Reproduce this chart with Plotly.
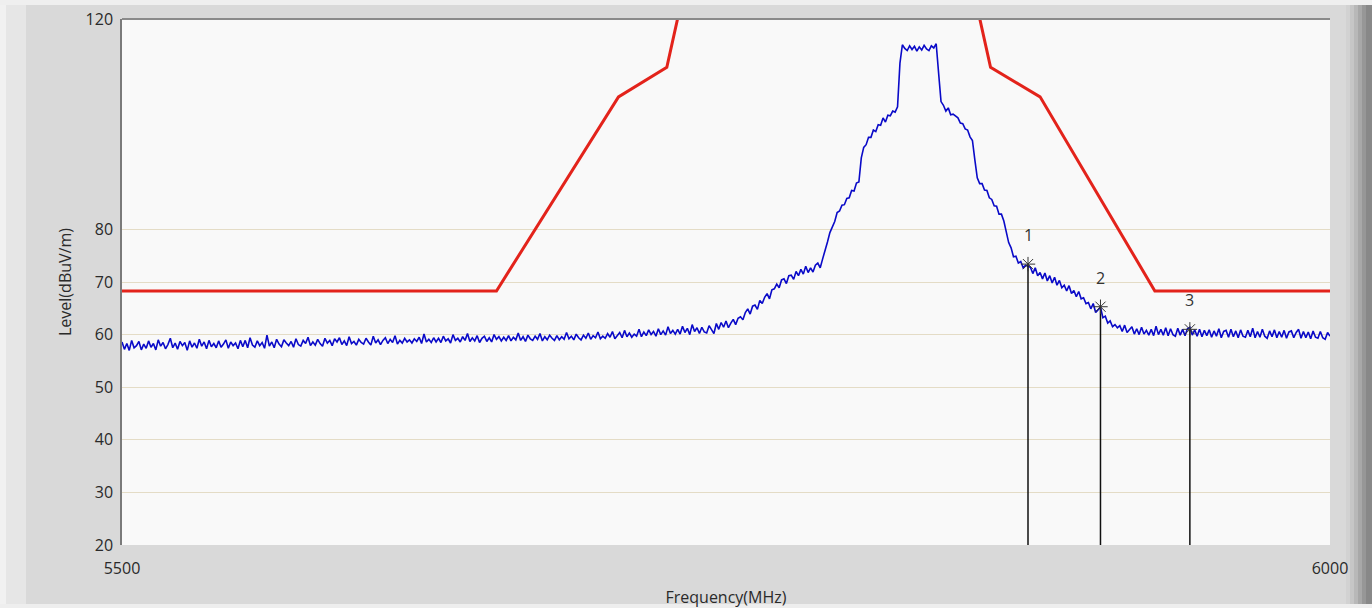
import plotly.graph_objects as go

# ---- data -------------------------------------------------------------
f_start, f_stop, f_step = 5500, 6000, 1  # MHz

# measured level, one value per MHz from 5500 to 6000 (dBuV/m)
level = [
    58.6, 57.2, 58.3, 57.0, 58.9, 57.5, 57.9, 58.7, 57.1, 58.2,
    57.4, 58.8, 57.6, 58.3, 57.1, 59.0, 57.8, 58.5, 57.3, 58.1,
    59.3, 57.5, 58.4, 57.2, 58.7, 57.9, 58.5, 57.0, 58.8, 57.6,
    58.4, 57.4, 59.1, 57.8, 58.6, 57.3, 58.9, 57.7, 58.3, 57.5,
    58.8, 57.6, 58.2, 59.0, 57.4, 58.6, 57.9, 58.4, 57.3, 58.9,
    57.7, 58.9, 57.5, 59.4, 58.0, 57.6, 58.8, 57.9, 58.5, 57.4,
    59.9, 57.8, 58.6, 57.5, 59.1, 58.2, 57.7, 59.0, 58.4, 57.9,
    58.7, 57.6, 59.2, 58.1, 57.8, 58.9, 58.3, 59.5, 57.9, 58.6,
    58.0, 59.1, 58.3, 57.8, 59.3, 58.4, 58.9, 57.9, 59.2, 58.6,
    59.4, 58.1, 58.8, 57.9, 59.6, 58.3, 58.7, 58.0, 59.1, 58.5,
    58.2, 59.3, 58.6, 58.0, 59.7, 58.4, 59.0, 58.1, 58.9, 59.4,
    58.3, 59.1, 58.5, 59.8, 58.2, 58.9, 58.4, 59.3, 58.6, 59.0,
    58.4, 59.2, 58.7, 59.5, 58.3, 60.1, 58.6, 59.1, 58.5, 59.4,
    58.6, 59.3, 58.5, 59.7, 58.8, 59.2, 58.4, 60.0, 58.9, 59.3,
    58.6, 59.6, 58.9, 60.2, 58.7, 59.4, 58.8, 59.8, 58.5, 59.3,
    59.7, 58.7, 59.4, 58.6, 60.0, 59.1, 59.6, 58.8, 59.5, 58.9,
    59.8, 58.8, 59.5, 59.0, 60.3, 58.9, 59.6, 58.7, 59.9, 59.2,
    58.9, 59.7, 59.1, 60.2, 58.8, 59.6, 59.0, 59.9, 59.3, 58.9,
    59.8, 59.0, 59.6, 59.1, 60.4, 59.2, 59.7, 59.0, 60.1, 59.4,
    59.0, 59.9, 59.3, 60.3, 59.1, 59.8, 59.4, 60.5, 59.2, 59.7,
    59.3, 60.2, 59.5, 60.6, 59.2, 59.9, 60.4, 59.4, 60.8, 59.6,
    60.3, 59.5, 60.1, 59.7, 61.0, 59.6, 60.5, 59.8, 60.9, 60.0,
    60.6, 59.7, 61.1, 60.0, 60.7, 59.9, 61.5, 60.2, 60.8, 60.1,
    61.0, 60.1, 61.6, 60.4, 61.2, 60.0, 61.9, 60.6, 61.3, 60.2,
    61.4, 60.5, 60.3, 61.7, 60.8, 60.2, 62.1, 61.0, 62.3, 61.4,
    62.6, 61.3, 62.2, 62.9, 61.9, 63.1, 63.4, 62.8, 64.2, 64.9,
    63.9, 65.4, 65.6, 64.8, 66.5, 65.9, 67.1, 67.8, 66.8, 68.5,
    68.7, 69.6, 68.9, 70.4, 70.6, 69.7, 71.2, 71.3, 70.5, 72.0,
    71.2, 72.4, 71.5, 73.0, 71.8, 72.7, 71.9, 73.2, 73.6, 72.7,
    74.4, 75.8, 77.6, 79.4, 80.6, 81.5, 83.2, 83.5, 84.6, 84.7,
    85.9, 86.0, 87.4, 87.3, 88.8, 89.0, 93.6, 95.6, 96.1, 97.5,
    97.5, 98.9, 98.6, 99.9, 99.8, 101.2, 100.4, 101.7, 101.6, 102.5,
    102.3, 103.3, 111.6, 115.1, 114.4, 114.0, 114.9, 114.2, 114.8, 113.9,
    114.7, 114.1, 115.0, 114.3, 114.0, 114.9, 114.5, 115.3, 109.7, 104.3,
    103.6, 102.5, 103.1, 101.8, 101.9, 101.5, 101.2, 100.2, 100.1, 99.1,
    98.9, 97.6, 96.9, 93.2, 89.8, 88.7, 88.7, 87.5, 87.4, 86.0,
    85.7, 84.5, 84.4, 82.9, 82.9, 81.6, 79.8, 77.5, 76.5, 74.8,
    74.9, 73.6, 73.9, 72.7, 73.2, 73.0, 72.8, 71.6, 72.7, 71.2,
    71.8, 70.6, 71.7, 70.2, 71.2, 69.8, 70.9, 69.4, 70.3, 68.9,
    69.4, 68.3, 69.3, 67.8, 68.4, 67.2, 68.2, 66.8, 67.0, 65.9,
    66.1, 64.9, 65.9, 64.2, 64.8, 65.2, 63.2, 63.5, 62.2, 62.6,
    61.5, 61.9, 61.3, 61.7, 60.6, 61.8, 60.4, 61.0, 61.5, 60.1,
    61.1, 60.0, 61.4, 60.1, 60.8, 59.9, 61.0, 59.8, 61.6, 60.0,
    61.0, 59.9, 61.3, 59.8, 61.1, 60.0, 59.7, 61.2, 59.9, 61.0,
    59.8, 61.1, 61.4, 59.9, 60.9, 59.7, 61.0, 59.6, 60.8, 59.8,
    60.9, 59.5, 60.7, 59.7, 61.1, 59.4, 60.6, 60.8, 59.5, 61.0,
    59.6, 60.7, 59.4, 60.9, 59.7, 59.5, 60.8, 59.6, 61.2, 59.4,
    60.6, 59.5, 61.0, 59.7, 59.3, 60.7, 59.6, 60.9, 59.4, 60.6,
    59.5, 60.8, 59.3, 60.5, 60.7, 59.4, 60.4, 61.0, 59.3, 60.6,
    59.4, 60.5, 59.2, 60.7, 59.5, 59.3, 60.6, 59.4, 59.1, 60.4,
    59.7,
]
freq = list(range(f_start, f_stop + 1, f_step))

# emission limit mask (MHz, dBuV/m)
limit_freq = [5500, 5655, 5705.5, 5725.5, 5731, 5854, 5859.5, 5880, 5927.5, 6000]
limit_level = [68.3, 68.3, 105.2, 110.8, 122.2, 122.2, 110.8, 105.2, 68.3, 68.3]

# markers
marker_label = ["1", "2", "3"]
marker_freq = [5875, 5905, 5942]
marker_level = [73.4, 65.3, 61.0]

y_ticks = [20, 30, 40, 50, 60, 70, 80, 120]
x_ticks = [5500, 6000]

# ---- figure -----------------------------------------------------------
W, H = 1372, 608
L, R, T, B = 122, 42, 19, 63
PW, PH = W - L - R, H - T - B


def px_x(p):
    return (p - L) / PW


def px_y(p):
    return (H - B - p) / PH


FONT = "Open Sans, Noto Sans, sans-serif"

fig = go.Figure()

fig.add_trace(go.Scatter(
    x=limit_freq, y=limit_level, mode="lines",
    line=dict(color="#e3231b", width=3), hoverinfo="skip", showlegend=False,
))

fig.add_trace(go.Scatter(
    x=freq, y=level, mode="lines",
    line=dict(color="#0a0ac8", width=1.6), showlegend=False,
))

# marker stems down to the bottom of the scale
for mf, ml in zip(marker_freq, marker_level):
    fig.add_trace(go.Scatter(
        x=[mf, mf], y=[ml, y_ticks[0]], mode="lines",
        line=dict(color="#111111", width=1.5), hoverinfo="skip", showlegend=False,
    ))

fig.add_trace(go.Scatter(
    x=marker_freq, y=marker_level, mode="markers",
    marker=dict(symbol="asterisk-open", size=12, color="#333333",
                line=dict(color="#333333", width=1)),
    showlegend=False,
))

for lab, mf, ml in zip(marker_label, marker_freq, marker_level):
    fig.add_annotation(x=mf, y=ml, text=lab, showarrow=False, yshift=29,
                       font=dict(family=FONT, size=16, color="#333333"))

# window frame around the plot panel
shapes = [
    dict(type="rect", xref="paper", yref="paper",
         x0=px_x(0), x1=px_x(26), y0=px_y(H), y1=px_y(0),
         fillcolor="#e6e6e6", line_width=0, layer="below"),
    dict(type="rect", xref="paper", yref="paper",
         x0=px_x(0), x1=px_x(6), y0=px_y(H), y1=px_y(0),
         fillcolor="#f1f1f1", line_width=0, layer="below"),
    dict(type="rect", xref="paper", yref="paper",
         x0=px_x(0), x1=px_x(W), y0=px_y(5), y1=px_y(0),
         fillcolor="#efefef", line_width=0, layer="below"),
    dict(type="rect", xref="paper", yref="paper",
         x0=px_x(0), x1=px_x(W), y0=px_y(H), y1=px_y(H - 4),
         fillcolor="#eeeeee", line_width=0, layer="below"),
]
right_shades = ["#d2d2d2", "#c6c6c6", "#b8b8b8", "#a8a8a8", "#979797", "#888888"]
for i, c in enumerate(right_shades):
    shapes.append(dict(type="rect", xref="paper", yref="paper",
                       x0=px_x(1346 + i * 4), x1=px_x(1350 + i * 4 if i < 5 else W),
                       y0=px_y(H - 4), y1=px_y(5),
                       fillcolor=c, line_width=0, layer="below"))
# top border of the plot panel
shapes.append(dict(type="line", xref="paper", yref="paper",
                   x0=0, x1=1, y0=1, y1=1, line=dict(color="#8a8a8a", width=2)))

fig.update_layout(
    width=W, height=H,
    margin=dict(l=L, r=R, t=T, b=B, pad=0, autoexpand=False),
    paper_bgcolor="#d9d9d9",
    plot_bgcolor="#f9f9f9",
    font=dict(family=FONT, size=16, color="#2a2a2a"),
    shapes=shapes,
    xaxis=dict(
        range=[f_start, f_stop], tickvals=x_ticks, ticktext=[str(v) for v in x_ticks],
        showgrid=False, zeroline=False, showline=False, ticks="",
        ticklabelstandoff=12, automargin=False,
        title=dict(text="Frequency(MHz)", standoff=14,
                   font=dict(family=FONT, size=16, color="#2a2a2a")),
    ),
    yaxis=dict(
        range=[20, 120], tickvals=y_ticks, ticktext=[str(v) for v in y_ticks],
        showgrid=True, gridcolor="#e4dcc6", gridwidth=1,
        zeroline=False, showline=True, linecolor="#7a7a7a", linewidth=1.5,
        ticks="", ticklabelstandoff=4, automargin=False,
        title=dict(text="Level(dBuV/m)", standoff=10,
                   font=dict(family=FONT, size=16, color="#2a2a2a")),
    ),
)

fig.write_html("out.html")
